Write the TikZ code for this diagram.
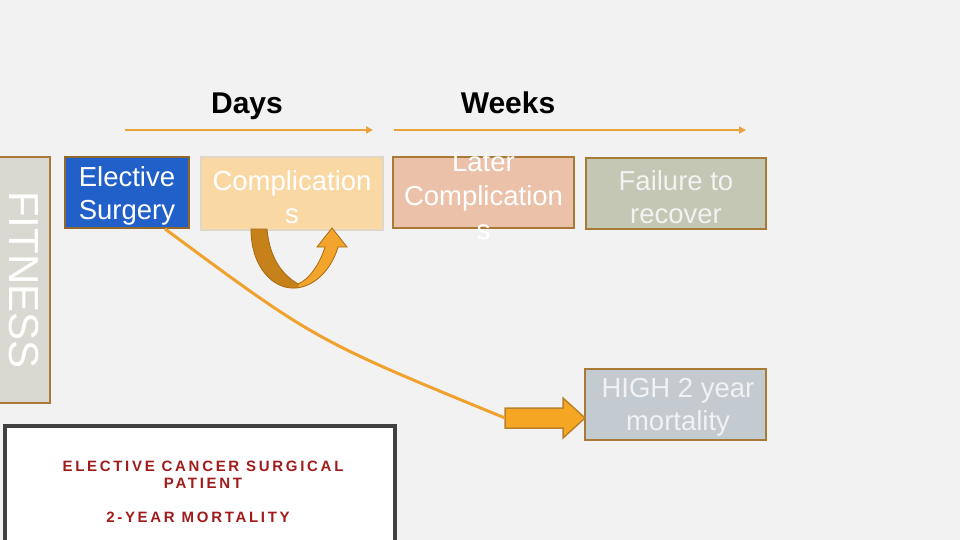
\documentclass[tikz,border=0pt]{standalone}
\usepackage{fontspec}
\setmainfont{Liberation Sans}
\newfontfamily\spacedfont[LetterSpace=18]{Liberation Sans}
\usetikzlibrary{arrows.meta}
\definecolor{bg}{HTML}{F2F2F2}
\definecolor{edgebrown}{HTML}{A97A35}
\definecolor{timeline}{HTML}{E9A33D}
\definecolor{esblue}{HTML}{2160C9}
\definecolor{compfill}{HTML}{FAD8A3}
\definecolor{compedge}{HTML}{DFD6C6}
\definecolor{laterfill}{HTML}{EBC1A9}
\definecolor{failfill}{HTML}{C5C7B5}
\definecolor{highfill}{HTML}{C3CBD0}
\definecolor{fitfill}{HTML}{D9D9D1}
\definecolor{curveor}{HTML}{F0A22F}
\definecolor{blockfill}{HTML}{F5A623}
\definecolor{blockedge}{HTML}{B9822B}
\definecolor{udark}{HTML}{C7811A}
\definecolor{ulight}{HTML}{F2A42C}
\definecolor{uedge}{HTML}{A86A12}
\definecolor{darkred}{HTML}{A01C1C}
\definecolor{frame}{HTML}{404040}
\tikzset{
  stagebox/.style={draw=edgebrown, line width=1.8pt, inner sep=0pt},
  boxtext/.style={text=white, align=center, font=\fontsize{27.5}{33}\selectfont, inner sep=0pt},
  headtext/.style={font=\bfseries\fontsize{30}{36}\selectfont, text=black, inner sep=0pt, anchor=base},
  timearrow/.style={draw=timeline, line width=2.2pt, -{Triangle[length=7pt,width=7pt]}},
  bigcurve/.style={draw=curveor, line width=3pt},
  redtext/.style={text=darkred, font=\spacedfont\bfseries\fontsize{15}{17}\selectfont, align=center, inner sep=0pt}
}
\begin{document}
\begin{tikzpicture}[x=1pt,y=-1pt]
\fill[bg] (0,0) rectangle (960,540);
\useasboundingbox (0,0) rectangle (960,540);

% headings and timelines
\node[headtext] (days) at (247,114) {Days};
\node[headtext] (weeks) at (508,114) {Weeks};
\coordinate (d1) at (125,130);
\coordinate (d2) at (373,130);
\coordinate (w1) at (394,130);
\coordinate (w2) at (746,130);
\draw[timearrow] (d1) -- (d2);
\draw[timearrow] (w1) -- (w2);

% fitness bar
\node[stagebox, fill=fitfill, minimum width=56pt, minimum height=246pt] (fit) at (22,280) {};
\node[text=white, rotate=-90, font=\fontsize{42}{42}\selectfont, inner sep=0pt] (fitt) at (24,280) {FITNESS};

% stage boxes
\node[stagebox, draw=edgebrown!85!black, fill=esblue, minimum width=124pt, minimum height=71pt] (es) at (127,192.5) {};
\node[boxtext] (est) at (127,196) {Elective\\Surgery};

\node[stagebox, draw=compedge, fill=compfill, minimum width=182pt, minimum height=73pt] (comp) at (292,193.5) {};
\node[boxtext] (compt) at (292,197) {Complication\\s};

\node[stagebox, fill=laterfill, minimum width=181pt, minimum height=71pt] (later) at (483.5,192.5) {};
\node[boxtext, font=\fontsize{27.5}{34}\selectfont] (latert) at (483.5,196) {Later\\Complication\\s};

\node[stagebox, fill=failfill, minimum width=180pt, minimum height=71pt] (fail) at (676,193.5) {};
\node[boxtext, text=bg] (failt) at (676,197) {Failure to\\recover};

\node[stagebox, fill=highfill, minimum width=181pt, minimum height=71pt] (high) at (675.5,404.5) {};
\node[boxtext, text=bg] (hight) at (678,407) {HIGH 2 year\\mortality};

% U-turn arrow under complications
\def\upath{(251,229) .. controls (251,268) and (274,290) .. (296,288)
  .. controls (318,286) and (333,265) .. (338,247) -- (347,247) -- (332,228)
  -- (317,247) -- (325,247) .. controls (320,263) and (310,279) .. (298,284)
  .. controls (285,276) and (270,262) .. (267,229) -- cycle}
\fill[ulight] \upath;
\begin{scope}
\clip (240,220) -- (290,220) -- (299,284) -- (296,295) -- (240,295) -- cycle;
\fill[udark] \upath;
\end{scope}
\draw[uedge, line width=0.8pt] \upath;

% block arrow toward high mortality
\path[fill=blockfill, draw=blockedge, line width=1.5pt]
  (505,408) -- (563,408) -- (563,398) -- (585,418) -- (563,438) -- (563,428) -- (505,428) -- cycle;
\coordinate (batail) at (505,418);
\coordinate (esout) at ([xshift=38pt]es.south);
\draw[bigcurve] (esout) .. controls (315,340) .. (batail);

% bottom panel
\node[draw=frame, fill=white, line width=3.5pt, minimum width=390pt, minimum height=130pt, inner sep=0pt] (panel) at (200,491) {};
\node[redtext] (pt1) at (203,474.5) {ELECTIVE CANCER SURGICAL\\PATIENT};
\node[redtext] (pt2) at (198,517) {2-YEAR MORTALITY};
\end{tikzpicture}
\end{document}
